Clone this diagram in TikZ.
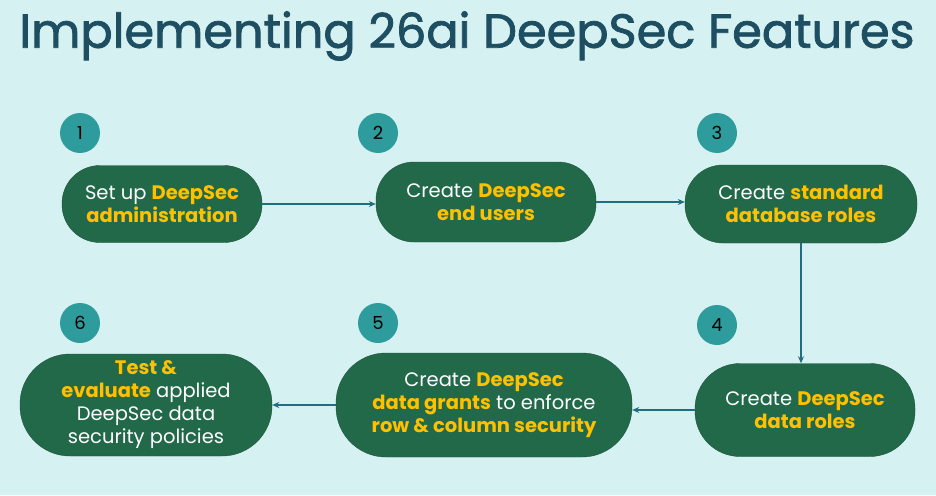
\documentclass[tikz,border=0pt]{standalone}
\usepackage{fontspec}
\setmainfont{Poppins}
\newfontfamily\ttlfont{Poppins}[FakeBold=1.6]
\usetikzlibrary{arrows.meta}
\definecolor{bg}{HTML}{D6F1F1}
\definecolor{boxg}{HTML}{22694A}
\definecolor{yel}{HTML}{FFC000}
\definecolor{circ}{HTML}{2E9C9C}
\definecolor{ttl}{HTML}{1E4E62}
\definecolor{arr}{HTML}{1F6F80}
\newcommand{\hl}[1]{\textcolor{yel}{\bfseries #1}}
\tikzset{
 stepbox/.style={rounded corners=38pt, fill=boxg, draw=boxg!80!black, text=white, align=center, font=\fontsize{19.5}{23}\selectfont, inner sep=0pt},
 num/.style={circle, fill=circ, minimum size=40pt, inner sep=0pt, font=\fontsize{18}{18}\selectfont, text=black},
 conn/.style={draw=arr, line width=1.3pt, -{Stealth[length=7pt,width=6pt]}}
}
\begin{document}
\begin{tikzpicture}[x=1pt,y=-1pt]
\fill[bg] (0,0) rectangle (936,495);
\useasboundingbox (0,0) rectangle (936,495);
\node[text=ttl, font=\ttlfont] (title) at (467,36) {\resizebox{895pt}{!}{Implementing 26ai DeepSec Features}};
\node[stepbox, minimum width=200pt, minimum height=77pt] (s1) at (162,204) {Set up \hl{DeepSec}\\\hl{administration}};
\node[stepbox, minimum width=220pt, minimum height=80pt] (s2) at (486,202) {Create \hl{DeepSec}\\\hl{end users}};
\node[stepbox, minimum width=232pt, minimum height=78pt] (s3) at (801,204) {Create \hl{standard}\\\hl{database roles}};
\node[stepbox, minimum width=220pt, minimum height=93pt, rounded corners=45pt] (s4) at (805,410) {Create \hl{DeepSec}\\\hl{data roles}};
\node[stepbox, minimum width=296pt, minimum height=104pt, rounded corners=50pt] (s5) at (484,405) {Create \hl{DeepSec}\\\hl{data grants} to enforce\\\hl{row \& column security}};
\node[stepbox, minimum width=252pt, minimum height=102pt, rounded corners=50pt] (s6) at (146,405) {\hl{Test \&}\\\hl{evaluate} applied\\DeepSec data\\security policies};
\node[num] (n1) at (80,133) {1};
\node[num] (n2) at (378,133) {2};
\node[num] (n3) at (717,133) {3};
\node[num] (n4) at (717,325) {4};
\node[num] (n5) at (378,323) {5};
\node[num] (n6) at (80,323) {6};
\draw[conn] (s1.east) -- (s1.east -| s2.west);
\draw[conn] (s2.east) -- (s2.east -| s3.west);
\draw[conn] (s3.south) -- (s3.south |- s4.north);
\draw[conn] (s4.west) -- (s4.west -| s5.east);
\draw[conn] (s5.west) -- (s5.west -| s6.east);
\end{tikzpicture}
\end{document}
